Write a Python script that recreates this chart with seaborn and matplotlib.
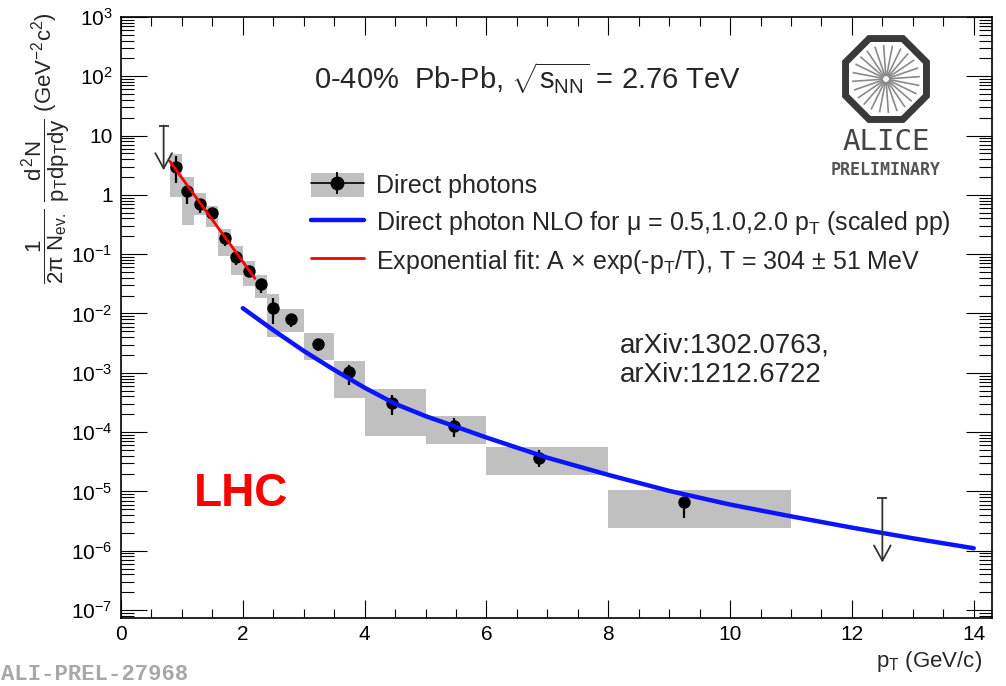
import numpy as np
import matplotlib
matplotlib.use("Agg")
import matplotlib.pyplot as plt
import seaborn as sns
from matplotlib.patches import Patch, RegularPolygon
from matplotlib.lines import Line2D
from matplotlib.ticker import FixedLocator, FixedFormatter, MultipleLocator, LogLocator, NullFormatter

# ---------------- data ----------------
pt = [0.90, 1.09, 1.30, 1.50, 1.70, 1.89, 2.10, 2.30, 2.50, 2.79, 3.23, 3.74, 4.45, 5.46, 6.86, 9.25]
yield_val = [3.0, 1.15, 0.70, 0.49, 0.187, 0.089, 0.053, 0.032, 0.0123, 0.0081, 0.0031,
             1.02e-3, 3.05e-4, 1.28e-4, 3.7e-5, 6.6e-6]
stat_lo = [1.6, 0.69, 0.49, 0.42, 0.135, 0.066, 0.042, 0.022, 0.0066, 0.006, 0.0023,
           6.3e-4, 1.95e-4, 8.3e-5, 2.6e-5, 3.5e-6]
stat_hi = [4.5, 1.3, 0.75, 0.56, 0.21, 0.10, 0.06, 0.036, 0.018, 0.009, 0.0034,
           1.35e-3, 4.3e-4, 1.7e-4, 5.0e-5, 8.1e-6]
sys_left = [0.8, 1.0, 1.2, 1.4, 1.6, 1.8, 2.0, 2.2, 2.4, 2.6, 3.0, 3.5, 4.0, 5.0, 6.0, 8.0]
sys_right = [1.0, 1.2, 1.4, 1.6, 1.8, 2.0, 2.2, 2.4, 2.6, 3.0, 3.5, 4.0, 5.0, 6.0, 8.0, 11.0]
sys_lo = [0.91, 0.31, 0.46, 0.29, 0.092, 0.044, 0.0286, 0.018, 0.0040, 0.0048, 0.00166,
          3.7e-4, 8.6e-5, 6.2e-5, 1.9e-5, 2.4e-6]
sys_hi = [4.9, 2.0, 1.07, 0.66, 0.27, 0.135, 0.078, 0.045, 0.021, 0.012, 0.0047,
          1.6e-3, 5.3e-4, 1.87e-4, 5.5e-5, 1.07e-5]

nlo_pt = [2.0, 2.5, 3.0, 3.5, 4.0, 4.5, 5.0, 5.5, 6.0, 7.0, 8.0, 9.0, 10.0, 11.0, 12.0, 13.0, 14.0]
nlo_y = [1.23e-2, 5.25e-3, 2.34e-3, 1.12e-3, 5.6e-4, 3.0e-4, 1.86e-4, 1.23e-4, 8.1e-5,
         3.7e-5, 1.9e-5, 1.02e-5, 6.0e-6, 3.8e-6, 2.45e-6, 1.62e-6, 1.1e-6]

fit_pt = [0.80, 2.20]
fit_y = [3.7, 0.039]

ul_pt = [0.70, 12.5]
ul_top = [14.8, 7.8e-6]
ul_tip = [2.6, 6.3e-7]

xtick_vals = [0, 2, 4, 6, 8, 10, 12, 14]
ytick_vals = [1e-7, 1e-6, 1e-5, 1e-4, 1e-3, 1e-2, 1e-1, 1, 10, 1e2, 1e3]
ytick_labels = [r"$10^{-7}$", r"$10^{-6}$", r"$10^{-5}$", r"$10^{-4}$", r"$10^{-3}$",
                r"$10^{-2}$", r"$10^{-1}$", "1", "10", r"$10^{2}$", r"$10^{3}$"]

legend_labels = ["Direct photons",
                 r"Direct photon NLO for μ = 0.5,1.0,2.0 p$_{T}$ (scaled pp)",
                 r"Exponential fit: A × exp(-p$_{T}$/T), T = 304 ± 51 MeV"]

# ---------------- style ----------------
sns.set_theme(style="ticks")
plt.rcParams["font.family"] = ["Liberation Sans", "DejaVu Sans"]
plt.rcParams["mathtext.fontset"] = "custom"
plt.rcParams["mathtext.rm"] = "Liberation Sans"
plt.rcParams["mathtext.it"] = "Liberation Sans"
plt.rcParams["mathtext.sf"] = "Liberation Sans"
plt.rcParams["mathtext.bf"] = "Liberation Sans:bold"

W, H = 1006, 686
fig = plt.figure(figsize=(W / 100, H / 100), dpi=100)
fig.patch.set_facecolor("white")
L, R, T, B = 121, 992, 17, 618
ax = fig.add_axes([L / W, 1 - B / H, (R - L) / W, (B - T) / H])
ax.set_facecolor("white")
ax.set_yscale("log")
ax.set_xlim(0, 14.3)
ax.set_ylim(10 ** -7.135, 1e3)

# systematic boxes
ax.bar(sys_left, np.array(sys_hi) - np.array(sys_lo), bottom=sys_lo,
       width=np.array(sys_right) - np.array(sys_left), align="edge",
       color="#c0c0c0", linewidth=0, zorder=1)

# statistical error bars + points
ax.vlines(pt, stat_lo, stat_hi, color="black", lw=1.6, zorder=3)
sns.scatterplot(x=pt, y=yield_val, color="black", s=80, edgecolor="black",
                linewidth=0, zorder=4, ax=ax, legend=False)

# NLO curve and fit
sns.lineplot(x=nlo_pt, y=nlo_y, color="#0a14ff", lw=3.2, zorder=5, ax=ax,
             legend=False, sort=False)
sns.lineplot(x=fit_pt, y=fit_y, color="#ff0000", lw=2.0, zorder=6, ax=ax,
             legend=False, sort=False)

# upper limits
for x0, ytop, ytip in zip(ul_pt, ul_top, ul_tip):
    ax.annotate("", xy=(x0, ytip), xytext=(x0, ytop),
                arrowprops=dict(arrowstyle="->,head_length=0.55,head_width=0.3",
                                color="#333333", lw=1.3, mutation_scale=20,
                                shrinkA=0, shrinkB=0), zorder=7)
ax.scatter(ul_pt, ul_top, marker="_", s=60, color="#333333", linewidths=1.3, zorder=7)

# ticks
ax.tick_params(which="both", direction="in", top=True, right=True, colors="black")
ax.tick_params(axis="x", which="major", length=13, width=0.8, labelsize=15, pad=5)
ax.tick_params(axis="x", which="minor", length=6.5, width=0.8)
ax.tick_params(axis="y", which="major", length=18.5, width=0.8, labelsize=15, pad=6)
ax.tick_params(axis="y", which="minor", length=9.3, width=0.8)
ax.xaxis.set_major_locator(FixedLocator(xtick_vals))
ax.xaxis.set_major_formatter(FixedFormatter([str(v) for v in xtick_vals]))
ax.xaxis.set_minor_locator(MultipleLocator(0.5))
ax.yaxis.set_major_locator(FixedLocator(ytick_vals))
ax.yaxis.set_major_formatter(FixedFormatter(ytick_labels))
ax.yaxis.set_minor_locator(LogLocator(base=10, subs=np.arange(2, 10), numticks=100))
ax.yaxis.set_minor_formatter(NullFormatter())
for s in ax.spines.values():
    s.set_linewidth(1.2)
    s.set_color("black")
ax.set_xlabel("")
ax.set_ylabel("")

# axis titles
fig.text(982 / W, 1 - 661 / H, r"p$_{T}$ (GeV/c)", ha="right", va="center", fontsize=16)
fig.text(46 / W, 1 - 148 / H,
         r"$\dfrac{1}{2\pi\ N_{ev.}}\ \dfrac{d^{2}N}{p_{T}dp_{T}dy}$ (GeV$^{-2}$c$^{2}$)",
         rotation=90, ha="center", va="center", fontsize=16)

# texts
fig.text(528 / W, 1 - 78 / H, r"0-40%  Pb-Pb, $\sqrt{s_{NN}}$ = 2.76 TeV",
         ha="center", va="center", fontsize=21)
fig.text(620 / W, 1 - 345 / H, "arXiv:1302.0763,", ha="left", va="center", fontsize=20)
fig.text(620 / W, 1 - 375 / H, "arXiv:1212.6722", ha="left", va="center", fontsize=20)
fig.text(241 / W, 1 - 494 / H, "LHC", ha="center", va="center", fontsize=33,
         fontweight="bold", color="#ff0000")
fig.text(1 / W, 1 - 675 / H, "ALI-PREL-27968", ha="left", va="center", fontsize=16,
         family="Liberation Mono", fontweight="bold", color="#a8a8a8")

# legend
h1 = (Patch(facecolor="#c0c0c0", edgecolor="none"),
      Line2D([], [], color="black", lw=1.2, marker="o", markersize=9),
      Line2D([], [], color="black", lw=0, marker="|", markersize=16, markeredgewidth=1.3))
h2 = Line2D([], [], color="#0a14ff", lw=3.2)
h3 = Line2D([], [], color="#ff0000", lw=2.0)
fig.legend([h1, h2, h3], legend_labels, loc="upper left",
           bbox_to_anchor=(311 / W, 1 - 173 / H), frameon=False, fontsize=18,
           handlelength=2.1, handleheight=1.1, handletextpad=0.5, labelspacing=0.42,
           borderpad=0, borderaxespad=0)

# ALICE logo
lax = fig.add_axes([(886 - 60) / W, 1 - (79 + 60) / H, 120 / W, 120 / H])
lax.set_xlim(-60, 60)
lax.set_ylim(-60, 60)
lax.axis("off")
lax.add_patch(RegularPolygon((0, 0), numVertices=8, radius=43.8, orientation=np.pi / 8,
                             fill=False, edgecolor="#3a3a3a", lw=5))
for ang in np.linspace(0, 2 * np.pi, 24, endpoint=False) + 0.07:
    lax.plot([3 * np.cos(ang), 34 * np.cos(ang)], [3 * np.sin(ang), 34 * np.sin(ang)],
             color="#8a8a8a", lw=1.2, solid_capstyle="butt")
fig.text(886 / W, 1 - 142 / H, "ALICE", ha="center", va="center", fontsize=21,
         family="DejaVu Sans Mono", color="#454545")
fig.text(886 / W, 1 - 170 / H, "PRELIMINARY", ha="center", va="center", fontsize=12,
         family="DejaVu Sans Mono", fontweight="bold", color="#555555")

fig.savefig("out.png", dpi=100, facecolor="white")
